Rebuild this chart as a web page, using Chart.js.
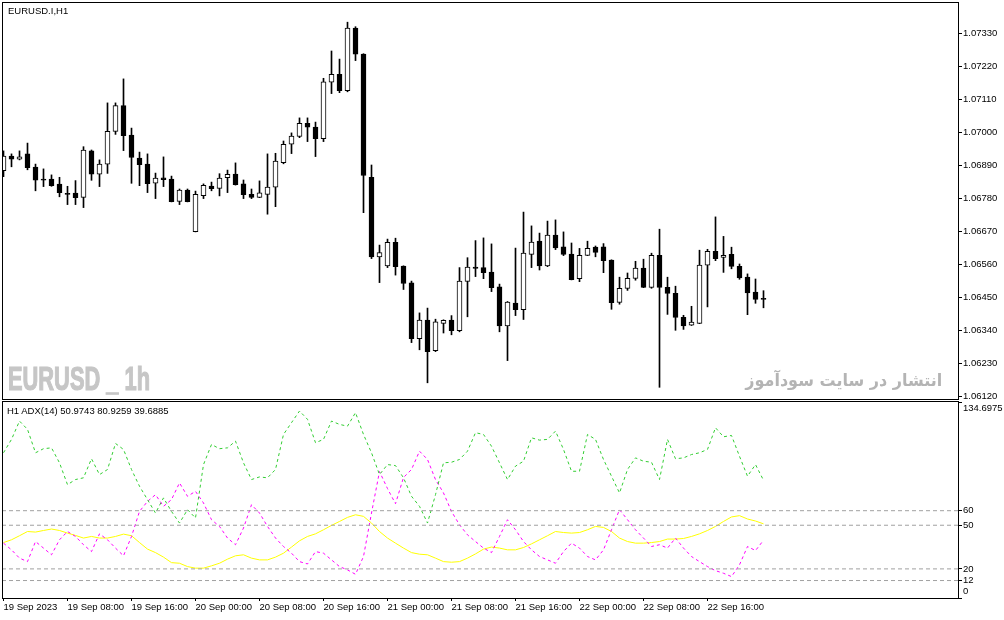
<!DOCTYPE html>
<html>
<head>
<meta charset="utf-8">
<script src="https://cdn.jsdelivr.net/npm/chart.js@4.4.0/dist/chart.umd.min.js"></script>
<style>
  html, body { margin: 0; padding: 0; background: #fff; }
  #wrap { position: relative; width: 1004px; height: 620px; overflow: hidden; }
  canvas { position: absolute; left: 0; }
  #main { top: 0; }
  #adx { top: 400px; }
  .lbl { position: absolute; font: 9.5px "Liberation Sans", sans-serif; line-height: 12px; color: #000; white-space: nowrap; }
  #wmLeft { position: absolute; left: 8px; top: 362px; font: bold 33px "Liberation Sans", sans-serif; line-height: 33px; color: #c6c6c6; -webkit-text-stroke: 1.2px #c6c6c6; white-space: pre; transform-origin: left center; }
  #wmRight { position: absolute; right: 62px; top: 369px; font: bold 17px "DejaVu Sans", sans-serif; line-height: 22px; color: #b4b4b4; white-space: nowrap; direction: rtl; transform-origin: right center; }
</style>
</head>
<body>
<div id="wrap">
  <canvas id="main" width="1004" height="400"></canvas>
  <canvas id="adx" width="1004" height="220"></canvas>
  <div class="lbl" style="left:8px; top:5px;">EURUSD.I,H1</div>
  <div class="lbl" style="left:7px; top:405px;">H1 ADX(14) 50.9743 80.9259 39.6885</div>
  <div id="wmLeft">EURUSD _ 1h</div>
  <div id="wmRight">انتشار در سایت سودآموز</div>
</div>
<script>
// hourly candles, 19 Sep 00:00 .. 22 Sep 23:00
const opens = [
  1.06872, 1.06921, 1.06910, 1.06928, 1.06884, 1.06844, 1.06844, 1.06827, 1.06794, 1.06797,
  1.06783, 1.06938, 1.06860, 1.06894, 1.07003, 1.07089, 1.06991, 1.06914, 1.06894, 1.06830,
  1.06848, 1.06844, 1.06770, 1.06807, 1.06669, 1.06789, 1.06821, 1.06813, 1.06849, 1.06861,
  1.06828, 1.06793, 1.06783, 1.06793, 1.06817, 1.06899, 1.06960, 1.06986, 1.07030, 1.07017,
  1.06979, 1.07167, 1.07193, 1.07139, 1.07347, 1.07261, 1.06850, 1.06585, 1.06555, 1.06633,
  1.06554, 1.06498, 1.06312, 1.06374, 1.06272, 1.06363, 1.06374, 1.06339, 1.06503, 1.06551,
  1.06549, 1.06534, 1.06485, 1.06355, 1.06431, 1.06409, 1.06593, 1.06637, 1.06555, 1.06657,
  1.06618, 1.06594, 1.06512, 1.06590, 1.06617, 1.06618, 1.06574, 1.06433, 1.06480, 1.06513,
  1.06547, 1.06483, 1.06590, 1.06483, 1.06463, 1.06383, 1.06357, 1.06363, 1.06557, 1.06603,
  1.06583, 1.06593, 1.06553, 1.06517, 1.06467, 1.06443
];
const highs = [
  1.06938, 1.06928, 1.06938, 1.06964, 1.06894, 1.06878, 1.06858, 1.06850, 1.06820, 1.06839,
  1.06952, 1.06941, 1.06908, 1.07098, 1.07098, 1.07178, 1.07014, 1.06934, 1.06928, 1.06864,
  1.06918, 1.06854, 1.06811, 1.06811, 1.06804, 1.06828, 1.06834, 1.06862, 1.06874, 1.06898,
  1.06841, 1.06811, 1.06838, 1.06928, 1.06930, 1.06971, 1.06998, 1.07048, 1.07048, 1.07034,
  1.07180, 1.07271, 1.07244, 1.07367, 1.07352, 1.07262, 1.06891, 1.06624, 1.06644, 1.06647,
  1.06555, 1.06504, 1.06398, 1.06414, 1.06377, 1.06375, 1.06389, 1.06549, 1.06582, 1.06639,
  1.06648, 1.06628, 1.06494, 1.06436, 1.06614, 1.06734, 1.06688, 1.06664, 1.06704, 1.06708,
  1.06668, 1.06631, 1.06613, 1.06637, 1.06621, 1.06629, 1.06575, 1.06517, 1.06531, 1.06570,
  1.06577, 1.06597, 1.06677, 1.06517, 1.06487, 1.06390, 1.06420, 1.06607, 1.06610, 1.06718,
  1.06653, 1.06617, 1.06561, 1.06528, 1.06511, 1.06472
];
const lows = [
  1.06852, 1.06885, 1.06908, 1.06875, 1.06805, 1.06819, 1.06820, 1.06785, 1.06759, 1.06759,
  1.06749, 1.06840, 1.06819, 1.06863, 1.06993, 1.06939, 1.06830, 1.06822, 1.06799, 1.06779,
  1.06819, 1.06768, 1.06759, 1.06768, 1.06668, 1.06779, 1.06805, 1.06788, 1.06799, 1.06824,
  1.06779, 1.06779, 1.06782, 1.06727, 1.06752, 1.06895, 1.06929, 1.06982, 1.06969, 1.06919,
  1.06969, 1.07129, 1.07132, 1.07135, 1.07239, 1.06732, 1.06579, 1.06499, 1.06549, 1.06524,
  1.06476, 1.06299, 1.06275, 1.06165, 1.06269, 1.06331, 1.06325, 1.06335, 1.06385, 1.06519,
  1.06512, 1.06469, 1.06335, 1.06239, 1.06389, 1.06376, 1.06549, 1.06541, 1.06552, 1.06609,
  1.06589, 1.06508, 1.06502, 1.06589, 1.06585, 1.06532, 1.06410, 1.06427, 1.06473, 1.06507,
  1.06482, 1.06480, 1.06150, 1.06393, 1.06340, 1.06343, 1.06356, 1.06362, 1.06418, 1.06572,
  1.06533, 1.06545, 1.06510, 1.06392, 1.06430, 1.06415
];
const closes = [
  1.06921, 1.06910, 1.06918, 1.06882, 1.06840, 1.06840, 1.06822, 1.06799, 1.06793, 1.06782,
  1.06941, 1.06860, 1.06894, 1.07003, 1.07089, 1.06989, 1.06916, 1.06892, 1.06829, 1.06847,
  1.06842, 1.06769, 1.06807, 1.06769, 1.06793, 1.06823, 1.06812, 1.06847, 1.06860, 1.06825,
  1.06792, 1.06783, 1.06798, 1.06817, 1.06904, 1.06960, 1.06987, 1.07030, 1.07017, 1.06979,
  1.07168, 1.07193, 1.07139, 1.07347, 1.07260, 1.06856, 1.06585, 1.06599, 1.06633, 1.06552,
  1.06496, 1.06312, 1.06374, 1.06269, 1.06368, 1.06373, 1.06339, 1.06504, 1.06551, 1.06546,
  1.06532, 1.06482, 1.06355, 1.06434, 1.06409, 1.06597, 1.06634, 1.06555, 1.06657, 1.06615,
  1.06593, 1.06509, 1.06590, 1.06613, 1.06600, 1.06572, 1.06432, 1.06480, 1.06513, 1.06547,
  1.06483, 1.06590, 1.06483, 1.06463, 1.06383, 1.06355, 1.06367, 1.06557, 1.06603, 1.06579,
  1.06590, 1.06553, 1.06515, 1.06465, 1.06443, 1.06443
];

// ADX(14): main line, +DI, -DI
const adxMain = [
  38.1, 40.0, 42.8, 45.7, 45.3, 46.4, 47.4, 46.4, 44.6, 43.0,
  41.2, 42.3, 41.2, 41.2, 42.3, 43.9, 42.8, 38.1, 33.6, 31.2,
  28.1, 24.3, 23.9, 21.6, 20.5, 20.5, 22.1, 23.9, 26.7, 29.0,
  29.7, 27.4, 26.2, 26.2, 28.1, 30.8, 35.0, 39.3, 42.3, 44.1,
  46.9, 49.9, 52.6, 55.4, 57.2, 56.1, 51.5, 45.7, 41.2, 37.7,
  34.3, 31.2, 30.1, 29.7, 27.4, 25.0, 24.6, 25.0, 27.4, 30.3,
  33.6, 35.0, 34.3, 33.1, 33.1, 34.7, 37.2, 40.0, 42.8, 45.7,
  45.0, 44.6, 45.0, 46.9, 49.2, 48.5, 45.7, 41.2, 38.8, 37.7,
  37.7, 38.1, 38.8, 40.5, 40.5, 40.9, 42.3, 44.1, 46.4, 49.2,
  52.6, 55.7, 56.6, 54.3, 52.9, 50.9743
];
const plusDI = [
  99.8, 109.0, 121.6, 115.9, 99.8, 102.6, 103.2, 92.9, 77.9, 81.4,
  82.6, 95.7, 84.8, 88.3, 106.2, 102.1, 88.3, 76.8, 67.6, 58.4,
  68.8, 59.5, 51.5, 60.7, 55.0, 91.7, 105.5, 102.6, 103.2, 107.8,
  92.9, 81.4, 83.2, 82.6, 88.3, 112.4, 120.5, 128.5, 122.8, 106.7,
  109.0, 121.6, 119.3, 118.1, 127.4, 112.4, 99.8, 84.8, 91.7, 91.0,
  82.6, 69.9, 63.0, 51.5, 71.0, 92.9, 93.3, 95.2, 100.9, 113.6,
  112.4, 104.3, 92.9, 81.4, 90.6, 94.0, 110.1, 108.5, 109.0, 114.7,
  102.1, 87.1, 87.1, 112.4, 109.0, 95.2, 83.7, 72.2, 88.3, 96.3,
  94.0, 93.3, 81.4, 109.0, 95.7, 96.3, 98.6, 99.8, 102.1, 117.0,
  110.8, 111.7, 97.4, 83.7, 91.7, 80.9259
];
const minusDI = [
  37.7, 33.1, 27.4, 25.0, 38.8, 34.3, 29.7, 40.0, 45.7, 42.3,
  36.6, 31.9, 44.1, 40.0, 34.3, 29.0, 42.3, 59.5, 66.4, 71.0,
  63.0, 67.6, 79.1, 69.9, 73.3, 65.3, 53.8, 49.2, 41.2, 36.6,
  48.1, 64.1, 58.4, 49.2, 41.2, 35.4, 30.8, 25.0, 23.4, 31.9,
  30.8, 26.2, 21.6, 19.3, 16.3, 28.5, 58.4, 86.9, 75.2, 64.8,
  82.8, 88.3, 100.9, 95.2, 81.4, 72.2, 59.5, 50.3, 43.4, 38.8,
  34.3, 31.2, 42.3, 53.8, 46.9, 38.8, 33.1, 28.5, 26.2, 23.9,
  31.9, 37.7, 34.3, 28.5, 26.2, 33.1, 46.9, 60.7, 53.8, 46.9,
  41.2, 35.4, 36.6, 34.3, 41.2, 34.3, 28.5, 25.0, 21.6, 18.8,
  17.0, 14.7, 22.8, 35.4, 32.6, 39.6885
];

const priceTicks = [1.07330, 1.07220, 1.07110, 1.07000, 1.06890, 1.06780,
                    1.06670, 1.06560, 1.06450, 1.06340, 1.06230, 1.06120];
const adxTicks = [134.6975, 60, 50, 20, 12, 0];
const adxLevels = [60, 50, 20, 12];
const timeLabels = ['19 Sep 2023', '19 Sep 08:00', '19 Sep 16:00', '20 Sep 00:00',
                    '20 Sep 08:00', '20 Sep 16:00', '21 Sep 00:00', '21 Sep 08:00',
                    '21 Sep 16:00', '22 Sep 00:00', '22 Sep 08:00', '22 Sep 16:00'];
const timeTickBars = [0, 8, 16, 24, 32, 40, 48, 56, 64, 72, 80, 88];

// visible window: 8px per bar, empty space on the right like the terminal
const X_MIN = -0.1875, X_MAX = 119.4375;
const PRICE_MIN = 1.06111, PRICE_MAX = 1.074343;
const ADX_MAX = 134.6975;

const tickFont = { family: 'Liberation Sans', size: 9.5 };

// black frame around each panel, like the terminal window
const framePlugin = {
  id: 'frame',
  afterDraw(chart, args, opts) {
    const { ctx, chartArea: a } = chart;
    ctx.save();
    ctx.strokeStyle = '#000';
    ctx.lineWidth = 1;
    ctx.setLineDash([]);
    ctx.strokeRect(a.left + 0.5, a.top + opts.dy, a.right - a.left - 1, a.bottom - a.top + opts.dh);
    ctx.restore();
  }
};

const bodyColors = closes.map((c, i) => c > opens[i] ? '#ffffff' : '#000000');

new Chart(document.getElementById('main'), {
  type: 'bar',
  data: {
    datasets: [
      {
        label: 'body',
        data: opens.map((o, i) => ({ x: i, y: [o, closes[i]] })),
        backgroundColor: bodyColors,
        borderColor: '#000',
        borderWidth: 1,
        borderSkipped: false,
        barThickness: 5,
        minBarLength: 1,
        grouped: false,
        order: 0
      },
      {
        label: 'wick',
        data: lows.map((l, i) => ({ x: i, y: [l, highs[i]] })),
        backgroundColor: '#000',
        borderWidth: 0,
        barThickness: 1,
        grouped: false,
        order: 1
      }
    ]
  },
  options: {
    responsive: false,
    animation: false,
    devicePixelRatio: 1,
    layout: { padding: { left: 2, top: 2, right: 0, bottom: 1 } },
    plugins: {
      legend: { display: false },
      tooltip: { enabled: false },
      frame: { dy: 0.5, dh: 0 }
    },
    scales: {
      x: { type: 'linear', display: false, min: X_MIN, max: X_MAX, offset: false },
      y: {
        position: 'right',
        min: PRICE_MIN,
        max: PRICE_MAX,
        afterBuildTicks: s => { s.ticks = priceTicks.map(v => ({ value: v })); },
        afterFit: s => { s.width = 45; s.paddingTop = 0; s.paddingBottom = 0; },
        ticks: { autoSkip: false, padding: 1, color: '#000', font: tickFont, callback: v => v.toFixed(5) },
        grid: { drawOnChartArea: false, drawTicks: true, tickLength: 3, color: '#000' },
        border: { display: false }
      }
    }
  },
  plugins: [framePlugin]
});

const levelSets = adxLevels.map(lv => ({
  data: [{ x: X_MIN, y: lv }, { x: X_MAX, y: lv }],
  borderColor: '#a0a0a0',
  borderDash: [4, 3]
}));

new Chart(document.getElementById('adx'), {
  type: 'line',
  data: {
    datasets: levelSets.concat([
      { data: plusDI.map((v, i) => ({ x: i, y: v })), borderColor: '#32cd32', borderDash: [3, 3] },
      { data: minusDI.map((v, i) => ({ x: i, y: v })), borderColor: '#ff00ff', borderDash: [3, 3] },
      { data: adxMain.map((v, i) => ({ x: i, y: v })), borderColor: '#ffff00' }
    ])
  },
  options: {
    responsive: false,
    animation: false,
    devicePixelRatio: 1,
    layout: { padding: { left: 2, top: 2, right: 0, bottom: 0 } },
    elements: { point: { radius: 0 }, line: { tension: 0, borderWidth: 1 } },
    plugins: {
      legend: { display: false },
      tooltip: { enabled: false },
      frame: { dy: -0.5, dh: 1 }
    },
    scales: {
      x: {
        type: 'linear',
        min: X_MIN,
        max: X_MAX,
        offset: false,
        afterBuildTicks: s => { s.ticks = timeTickBars.map(v => ({ value: v })); },
        afterFit: s => { s.height = 22; s.paddingLeft = 0; s.paddingRight = 0; },
        ticks: {
          autoSkip: false, align: 'start', maxRotation: 0, minRotation: 0, padding: 1,
          color: '#000', font: tickFont,
          callback: v => timeLabels[timeTickBars.indexOf(v)]
        },
        grid: { drawOnChartArea: false, drawTicks: true, tickLength: 3, color: '#000' },
        border: { display: false }
      },
      y: {
        position: 'right',
        min: 0,
        max: ADX_MAX,
        afterBuildTicks: s => { s.ticks = adxTicks.map(v => ({ value: v })); },
        afterFit: s => { s.width = 45; s.paddingTop = 0; s.paddingBottom = 0; },
        ticks: {
          autoSkip: false, padding: 1, color: '#000',
          font: { family: 'Liberation Sans', size: 9.5, lineHeight: 1.4 },
          callback: v => v === ADX_MAX ? ['', String(v)] : (v === 0 ? ['0', ''] : String(v))
        },
        grid: { drawOnChartArea: false, drawTicks: true, tickLength: 3, color: '#000' },
        border: { display: false }
      }
    }
  },
  plugins: [framePlugin]
});

// fit the two watermarks to their width in the picture
function fitWidth(id, target) {
  const el = document.getElementById(id);
  const w = el.getBoundingClientRect().width;
  if (w > 0) el.style.transform = 'scaleX(' + (target / w) + ')';
}
fitWidth('wmLeft', 142);
fitWidth('wmRight', 197);
</script>
</body>
</html>
